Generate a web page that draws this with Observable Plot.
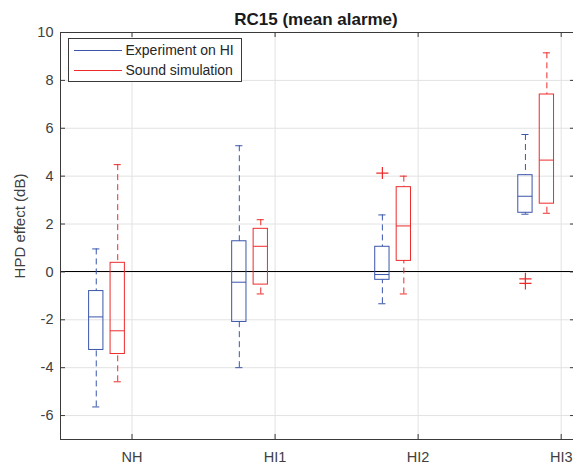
<!DOCTYPE html>
<html><head><meta charset="utf-8">
<script src="https://cdn.jsdelivr.net/npm/d3@7"></script>
<script src="https://cdn.jsdelivr.net/npm/@observablehq/plot@0.6"></script>
<style>body{margin:0;background:#fff} svg{display:block}</style>
</head><body><div id="chart"></div>
<script>
// ---- data ----
const categories = ["NH", "HI1", "HI2", "HI3"];
const seriesNames = ["Experiment on HI", "Sound simulation"];
const seriesColors = ["#3a55ab", "#ee2b2b"];

const expLower  = [-5.64, -4.00, -1.33, 2.41];
const expQ1     = [-3.26, -2.09, -0.33, 2.47];
const expMedian = [-1.88, -0.43, -0.11, 3.16];
const expQ3     = [-0.80,  1.28,  1.05, 4.04];
const expUpper  = [ 0.96,  5.27,  2.38, 5.74];

const simLower  = [-4.59, -0.92, -0.92, 2.45];
const simQ1     = [-3.43, -0.53,  0.46, 2.85];
const simMedian = [-2.46,  1.07,  1.92, 4.67];
const simQ3     = [ 0.38,  1.80,  3.54, 7.41];
const simUpper  = [ 4.48,  2.18,  4.00, 9.15];

const outlierCategory = ["HI2", "HI3", "HI3"];
const outlierSeries   = ["Experiment on HI", "Experiment on HI", "Experiment on HI"];
const outlierValue    = [4.13, -0.29, -0.48];

const yTicks = [-6, -4, -2, 0, 2, 4, 6, 8, 10];

// ---- layout ----
const W = 573, H = 464;
const mL = 60, mR = -2, mT = 32, mB = 25;
const xDom = [0.5, 4.1], yDom = [-7, 10];
const seriesOffset = {"Experiment on HI": -0.25, "Sound simulation": -0.1};
const halfBox = 0.05, halfCap = 0.025;
const tickLenX = 5 * (xDom[1] - xDom[0]) / (W - mR - mL);
const tickLenY = 5 * (yDom[1] - yDom[0]) / (H - mB - mT);
const catPos = categories.map((c, i) => i + 1);

const boxes = [];
categories.forEach((c, i) => {
  boxes.push({cat: c, series: seriesNames[0], pos: i + 1 + seriesOffset[seriesNames[0]],
    lo: expLower[i], q1: expQ1[i], med: expMedian[i], q3: expQ3[i], hi: expUpper[i]});
  boxes.push({cat: c, series: seriesNames[1], pos: i + 1 + seriesOffset[seriesNames[1]],
    lo: simLower[i], q1: simQ1[i], med: simMedian[i], q3: simQ3[i], hi: simUpper[i]});
});
const outliers = outlierValue.map((v, i) => ({
  pos: categories.indexOf(outlierCategory[i]) + 1 + seriesOffset[outlierSeries[i]],
  value: v
}));

const axisColor = "#3a3a3a";
const gridColor = "#e2e2e2";
const font = "'Liberation Sans', Arial, Helvetica, sans-serif";

const chart = Plot.plot({
  width: W, height: H,
  marginLeft: mL, marginRight: mR, marginTop: mT, marginBottom: mB,
  x: {domain: xDom, axis: null},
  y: {domain: yDom, axis: null},
  color: {domain: seriesNames, range: seriesColors},
  style: {fontFamily: font, fontSize: "14.5px", color: "#404040", background: "white"},
  marks: [
    // grid
    Plot.ruleY(yTicks, {stroke: gridColor}),
    Plot.ruleX(catPos, {stroke: gridColor}),
    // zero line
    Plot.ruleY([0], {stroke: "#000", strokeWidth: 1, dy: -0.4}),
    // whiskers
    Plot.ruleX(boxes, {x: "pos", y1: "hi", y2: "q3", stroke: "series", strokeDasharray: "6,4"}),
    Plot.ruleX(boxes, {x: "pos", y1: "lo", y2: "q1", stroke: "series", strokeDasharray: "6,4"}),
    Plot.ruleY(boxes, {y: "hi", x1: d => d.pos - halfCap, x2: d => d.pos + halfCap, stroke: "series"}),
    Plot.ruleY(boxes, {y: "lo", x1: d => d.pos - halfCap, x2: d => d.pos + halfCap, stroke: "series"}),
    // boxes
    Plot.rect(boxes, {x1: d => d.pos - halfBox, x2: d => d.pos + halfBox, y1: "q1", y2: "q3", stroke: "series", fill: "none"}),
    Plot.ruleY(boxes, {y: "med", x1: d => d.pos - halfBox, x2: d => d.pos + halfBox, stroke: "series"}),
    // outliers
    Plot.dot(outliers, {x: "pos", y: "value", symbol: "plus", r: 4, stroke: seriesColors[1], strokeWidth: 1.2}),
    // axes box lines
    Plot.ruleX([xDom[0]], {stroke: axisColor}),
    Plot.ruleY([yDom[0]], {stroke: axisColor}),
    Plot.ruleY([yDom[1]], {stroke: axisColor}),
    Plot.ruleX([xDom[1]], {stroke: axisColor}),
    // inward ticks
    Plot.ruleY(yTicks, {x1: xDom[0], x2: xDom[0] + tickLenX, stroke: axisColor}),
    Plot.ruleY(yTicks, {x1: xDom[1] - tickLenX, x2: xDom[1], stroke: axisColor}),
    Plot.ruleX(catPos, {y1: yDom[0], y2: yDom[0] + tickLenY, stroke: axisColor}),
    Plot.ruleX(catPos, {y1: yDom[1] - tickLenY, y2: yDom[1], stroke: axisColor}),
    // axis labels
    Plot.axisY(yTicks, {anchor: "left", tickSize: 0, tickPadding: 7, label: null,
      tickFormat: d => String(d), fill: "#404040"}),
    Plot.axisX(catPos, {anchor: "bottom", tickSize: 0, tickPadding: 12, label: null,
      tickFormat: d => categories[d - 1], fill: "#404040"})
  ]
});

const svg = d3.select(chart);
// title
svg.append("text")
  .attr("x", 316).attr("y", 24.5)
  .attr("text-anchor", "middle")
  .attr("font-family", font).attr("font-size", 17).attr("font-weight", "bold")
  .attr("fill", "#1a1a1a")
  .text("RC15 (mean alarme)");
// y label
svg.append("text")
  .attr("transform", `translate(20,226) rotate(-90)`)
  .attr("text-anchor", "middle").attr("dy", "0.35em")
  .attr("font-family", font).attr("font-size", 15)
  .attr("fill", "#404040")
  .text("HPD effect (dB)");
// legend
const lg = svg.append("g").attr("font-family", font).attr("font-size", 14).attr("text-anchor", "start");
lg.append("rect").attr("x", 68.5).attr("y", 38.5).attr("width", 173).attr("height", 43)
  .attr("fill", "white").attr("stroke", axisColor).attr("stroke-width", 1);
seriesNames.forEach((s, i) => {
  const y = 50.5 + i * 20;
  lg.append("line").attr("x1", 74).attr("x2", 122).attr("y1", y).attr("y2", y)
    .attr("stroke", seriesColors[i]).attr("stroke-width", 1);
  lg.append("text").attr("x", 125.5).attr("y", y).attr("dy", "0.35em")
    .attr("text-anchor", "start")
    .attr("fill", "#262626").text(s);
});

document.getElementById("chart").appendChild(chart);
</script>
</body></html>
